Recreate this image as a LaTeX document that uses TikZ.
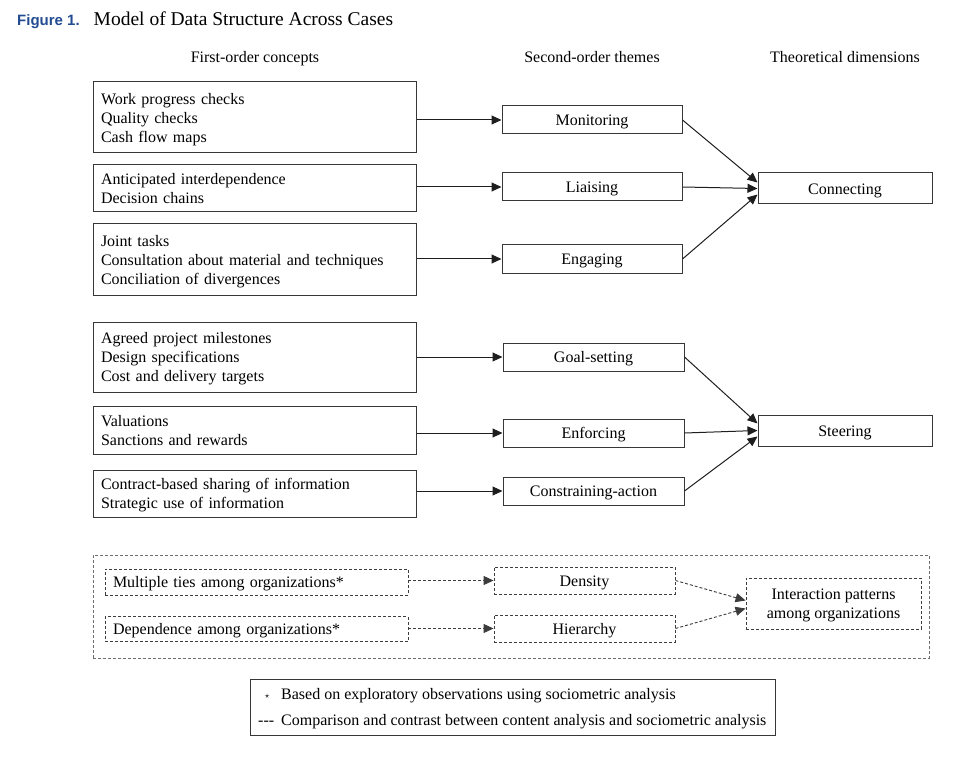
\documentclass[tikz,border=0pt]{standalone}
\usepackage{fontspec}
\setmainfont{Liberation Serif}
\setsansfont{Liberation Sans}
\usetikzlibrary{arrows.meta}
\definecolor{figblue}{RGB}{35,75,145}
\definecolor{boxline}{RGB}{55,55,55}
\definecolor{arrline}{RGB}{30,30,30}
\definecolor{dashgray}{RGB}{60,60,60}
\definecolor{outergray}{RGB}{110,110,110}
\newcommand\dn[1]{\raisebox{-2pt}[\height][\depth]{#1}}
\newcommand\ml[1]{\raisebox{-2pt}[\height][\depth]{\begin{tabular}{@{}l@{}}#1\end{tabular}}}
\begin{document}
\begin{tikzpicture}[x=1pt,y=-1pt,
  every node/.style={font=\fontsize{16}{19}\selectfont, inner sep=0pt},
  lbox/.style={draw=boxline, line width=1pt, align=left, text width=307pt, inner xsep=8pt, inner ysep=0pt, minimum height=#1},
  mbox/.style={draw=boxline, line width=1pt, minimum width=#1, minimum height=28pt},
  rbox/.style={draw=boxline, line width=1pt, minimum width=174pt, minimum height=31pt},
  dsh/.style={dash pattern=on 3pt off 2pt},
  dlbox/.style={draw=dashgray, line width=0.9pt, dsh, align=left, text width=287pt, inner xsep=8pt, minimum height=#1},
  dmbox/.style={draw=dashgray, line width=0.9pt, dsh, minimum width=181pt, minimum height=27pt},
  arr/.style={-{Triangle[length=10pt,width=9pt]}, line width=1pt, draw=arrline},
  darr/.style={-{Triangle[length=10pt,width=9pt]}, line width=0.9pt, draw=dashgray, dsh},
  head/.style={anchor=base}
]
\useasboundingbox (0,0) rectangle (972,770);

% title
\node (title) [anchor=base west] at (17,26) {{\sffamily\bfseries\fontsize{15}{18}\selectfont\color{figblue}Figure 1.}\hspace{14pt}{\fontsize{19.5}{22}\selectfont Model of Data Structure Across Cases}};

% headers
\node (h1) [head] at (255,63) {First-order concepts};
\node (h2) [head] at (592,63) {Second-order themes};
\node (h3) [head] at (845,63) {Theoretical dimensions};

% first-order concept boxes
\node (b1) [lbox=71pt] at (254.5,117.5) {\ml{Work progress checks\\Quality checks\\Cash flow maps}};
\node (b2) [lbox=47pt] at (254.5,188.5) {\ml{Anticipated interdependence\\Decision chains}};
\node (b3) [lbox=71pt] at (254.5,259.5) {\ml{Joint tasks\\Consultation about material and techniques\\Conciliation of divergences}};
\node (b4) [lbox=70pt] at (254.5,357) {\ml{Agreed project milestones\\Design specifications\\Cost and delivery targets}};
\node (b5) [lbox=48pt] at (254.5,430) {\ml{Valuations\\Sanctions and rewards}};
\node (b6) [lbox=47pt] at (254.5,493.5) {\ml{Contract-based sharing of information\\Strategic use of information}};

% second-order themes
\node (mon) [mbox=180pt] at (592,120) {\dn{Monitoring}};
\node (lia) [mbox=180pt] at (592,187) {\dn{Liaising}};
\node (eng) [mbox=180pt] at (592,259) {\dn{Engaging}};
\node (goa) [mbox=181pt] at (593.5,357) {\dn{Goal-setting}};
\node (enf) [mbox=181pt] at (593.5,433) {\dn{Enforcing}};
\node (cst) [mbox=181pt] at (593.5,491) {\dn{Constraining-action}};

% theoretical dimensions
\node (conn) [rbox] at (845,188.5) {\dn{Connecting}};
\node (ster) [rbox] at (845,430.5) {\dn{Steering}};

% arrows first -> second
\draw[arr] (b1.east |- mon) -- (mon.west);
\draw[arr] (b2.east |- lia) -- (lia.west);
\draw[arr] (b3.east |- eng) -- (eng.west);
\draw[arr] (b4.east |- goa) -- (goa.west);
\draw[arr] (b5.east |- enf) -- (enf.west);
\draw[arr] (b6.east |- cst) -- (cst.west);

% arrows second -> dimensions
\draw[arr] (mon.east) -- ([yshift=6pt]conn.west);
\draw[arr] (lia.east) -- (conn.west);
\draw[arr] (eng.east) -- ([yshift=-6pt]conn.west);
\draw[arr] (goa.east) -- ([yshift=7pt]ster.west);
\draw[arr] (enf.east) -- (ster.west);
\draw[arr] (cst.east) -- ([yshift=-6pt]ster.west);

% dashed section
\node (outer) [draw=outergray, line width=0.8pt, dsh, minimum width=836pt, minimum height=103pt] at (511,606.5) {};
\node (mt) [dlbox=26pt] at (256.5,582) {\dn{Multiple ties among organizations*}};
\node (dep) [dlbox=25pt] at (256.5,629) {\dn{Dependence among organizations*}};
\node (den) [dmbox] at (584.5,580.5) {\dn{Density}};
\node (hie) [dmbox] at (584.5,628.5) {\dn{Hierarchy}};
\node (ip) [draw=dashgray, line width=0.9pt, dsh, minimum width=175pt, minimum height=51pt, align=center] at (833.5,603.5) {\raisebox{-2pt}[\height][\depth]{\begin{tabular}{@{}c@{}}Interaction patterns\\among organizations\end{tabular}}};

\draw[darr] (mt.east |- den) -- (den.west);
\draw[darr] (dep.east |- hie) -- (hie.west);
\draw[darr] (den.east) -- ([yshift=3pt]ip.west);
\draw[darr] (hie.east) -- ([yshift=-5pt]ip.west);

% legend
\node (leg) [draw=boxline, line width=0.9pt, minimum width=525pt, minimum height=56pt] at (512.5,707) {};
\node (l1) [anchor=base west] at (258,699) {\makebox[18pt][c]{\raisebox{1pt}{\fontsize{9}{9}\selectfont$\star$}}\hspace{5pt}Based on exploratory observations using sociometric analysis};
\node (l2) [anchor=base west] at (258,725) {\makebox[18pt][l]{-{}-{}-}\hspace{5pt}Comparison and contrast between content analysis and sociometric analysis};
\end{tikzpicture}
\end{document}
